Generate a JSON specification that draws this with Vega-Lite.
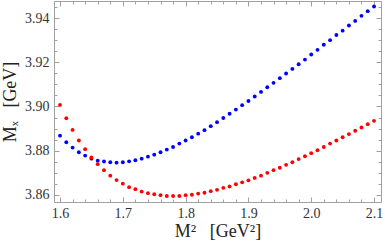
{
  "$schema": "https://vega.github.io/schema/vega-lite/v6.json",
  "width": 327,
  "height": 201,
  "autosize": "none",
  "padding": {"left": 54, "top": 1, "right": 4, "bottom": 47},
  "background": "white",
  "config": {
    "view": {"stroke": null},
    "axis": {
      "domainColor": "#a0a0a0",
      "tickColor": "#a0a0a0",
      "grid": false
    }
  },
  "data": {
    "values": [
      {"m2": 1.60, "b": 3.8868, "r": 3.9007},
      {"m2": 1.61, "b": 3.8838, "r": 3.8947},
      {"m2": 1.62, "b": 3.8814, "r": 3.8894},
      {"m2": 1.63, "b": 3.8793, "r": 3.8846},
      {"m2": 1.64, "b": 3.8778, "r": 3.8807},
      {"m2": 1.65, "b": 3.8764, "r": 3.8769},
      {"m2": 1.66, "b": 3.8755, "r": 3.8739},
      {"m2": 1.67, "b": 3.8751, "r": 3.8712},
      {"m2": 1.68, "b": 3.8748, "r": 3.8687},
      {"m2": 1.69, "b": 3.8746, "r": 3.8667},
      {"m2": 1.70, "b": 3.8748, "r": 3.8651},
      {"m2": 1.71, "b": 3.8752, "r": 3.8635},
      {"m2": 1.72, "b": 3.8757, "r": 3.8626},
      {"m2": 1.73, "b": 3.8764, "r": 3.8615},
      {"m2": 1.74, "b": 3.8773, "r": 3.8608},
      {"m2": 1.75, "b": 3.8782, "r": 3.8603},
      {"m2": 1.76, "b": 3.8793, "r": 3.8599},
      {"m2": 1.77, "b": 3.8805, "r": 3.8595},
      {"m2": 1.78, "b": 3.8817, "r": 3.8595},
      {"m2": 1.79, "b": 3.8832, "r": 3.8595},
      {"m2": 1.80, "b": 3.8846, "r": 3.8599},
      {"m2": 1.81, "b": 3.8861, "r": 3.8601},
      {"m2": 1.82, "b": 3.8877, "r": 3.8606},
      {"m2": 1.83, "b": 3.8893, "r": 3.8610},
      {"m2": 1.84, "b": 3.8911, "r": 3.8617},
      {"m2": 1.85, "b": 3.8929, "r": 3.8623},
      {"m2": 1.86, "b": 3.8948, "r": 3.8632},
      {"m2": 1.87, "b": 3.8967, "r": 3.8638},
      {"m2": 1.88, "b": 3.8986, "r": 3.8648},
      {"m2": 1.89, "b": 3.9006, "r": 3.8657},
      {"m2": 1.90, "b": 3.9025, "r": 3.8666},
      {"m2": 1.91, "b": 3.9045, "r": 3.8677},
      {"m2": 1.92, "b": 3.9066, "r": 3.8687},
      {"m2": 1.93, "b": 3.9087, "r": 3.8700},
      {"m2": 1.94, "b": 3.9107, "r": 3.8712},
      {"m2": 1.95, "b": 3.9128, "r": 3.8723},
      {"m2": 1.96, "b": 3.9149, "r": 3.8736},
      {"m2": 1.97, "b": 3.9170, "r": 3.8748},
      {"m2": 1.98, "b": 3.9191, "r": 3.8762},
      {"m2": 1.99, "b": 3.9212, "r": 3.8775},
      {"m2": 2.00, "b": 3.9235, "r": 3.8789},
      {"m2": 2.01, "b": 3.9256, "r": 3.8802},
      {"m2": 2.02, "b": 3.9279, "r": 3.8817},
      {"m2": 2.03, "b": 3.9300, "r": 3.8832},
      {"m2": 2.04, "b": 3.9323, "r": 3.8846},
      {"m2": 2.05, "b": 3.9343, "r": 3.8861},
      {"m2": 2.06, "b": 3.9366, "r": 3.8875},
      {"m2": 2.07, "b": 3.9387, "r": 3.8890},
      {"m2": 2.08, "b": 3.9410, "r": 3.8905},
      {"m2": 2.09, "b": 3.9431, "r": 3.8920},
      {"m2": 2.10, "b": 3.9452, "r": 3.8935}
    ]
  },
  "transform": [{"fold": ["b", "r"], "as": ["series", "mx"]}],
  "resolve": {"axis": {"x": "independent", "y": "independent"}},
  "layer": [
    {
      "mark": {"type": "point", "filled": true, "size": 15, "opacity": 1},
      "encoding": {
        "x": {
          "field": "m2", "type": "quantitative",
          "scale": {"domain": [1.5904, 2.1111], "nice": false, "zero": false},
          "axis": {
            "orient": "bottom",
            "title": "M² \u2002[GeV²]",
            "titleFont": "Liberation Serif",
            "titleFontSize": 18,
            "titleFontWeight": "normal",
            "titleColor": "#222222",
            "titlePadding": 2,
            "labelFont": "Liberation Serif",
            "labelFontSize": 14,
            "labelColor": "#333333",
            "values": [1.6,1.62,1.64,1.66,1.68,1.7,1.72,1.74,1.76,1.78,1.8,1.82,1.84,1.86,1.88,1.9,1.92,1.94,1.96,1.98,2.0,2.02,2.04,2.06,2.08,2.1],
            "labelExpr": "abs(datum.value*10 - round(datum.value*10)) < 0.001 ? format(datum.value, '.1f') : ''",
            "tickSize": {"condition": {"test": "abs(datum.value*10 - round(datum.value*10)) < 0.001", "value": -5}, "value": -3},
            "labelPadding": 9,
            "labelFlush": false
          }
        },
        "y": {
          "field": "mx", "type": "quantitative",
          "scale": {"domain": [3.8568, 3.9477], "nice": false, "zero": false},
          "axis": {
            "orient": "left",
            "title": "Mₓ \u2002[GeV]",
            "titleFont": "Liberation Serif",
            "titleFontSize": 18,
            "titleFontWeight": "normal",
            "titleColor": "#222222",
            "titlePadding": 5,
            "labelFont": "Liberation Serif",
            "labelFontSize": 14,
            "labelColor": "#333333",
            "values": [3.86,3.865,3.87,3.875,3.88,3.885,3.89,3.895,3.9,3.905,3.91,3.915,3.92,3.925,3.93,3.935,3.94,3.945],
            "labelExpr": "abs(datum.value*50 - round(datum.value*50)) < 0.001 ? format(datum.value, '.2f') : ''",
            "tickSize": {"condition": {"test": "abs(datum.value*50 - round(datum.value*50)) < 0.001", "value": -5}, "value": -3},
            "labelPadding": 10,
            "labelFlush": false
          }
        },
        "color": {
          "field": "series", "type": "nominal",
          "scale": {"domain": ["b", "r"], "range": ["#0000ff", "#ff0000"]},
          "legend": null
        }
      }
    },
    {
      "mark": {"type": "point", "opacity": 0},
      "encoding": {
        "x": {
          "field": "m2", "type": "quantitative",
          "axis": {
            "orient": "top",
            "title": null,
            "labels": false,
            "values": [1.6,1.62,1.64,1.66,1.68,1.7,1.72,1.74,1.76,1.78,1.8,1.82,1.84,1.86,1.88,1.9,1.92,1.94,1.96,1.98,2.0,2.02,2.04,2.06,2.08,2.1],
            "tickSize": {"condition": {"test": "abs(datum.value*10 - round(datum.value*10)) < 0.001", "value": -5}, "value": -3}
          }
        },
        "y": {
          "field": "mx", "type": "quantitative",
          "axis": {
            "orient": "right",
            "title": null,
            "labels": false,
            "values": [3.86,3.865,3.87,3.875,3.88,3.885,3.89,3.895,3.9,3.905,3.91,3.915,3.92,3.925,3.93,3.935,3.94,3.945],
            "tickSize": {"condition": {"test": "abs(datum.value*50 - round(datum.value*50)) < 0.001", "value": -5}, "value": -3}
          }
        }
      }
    }
  ]
}
